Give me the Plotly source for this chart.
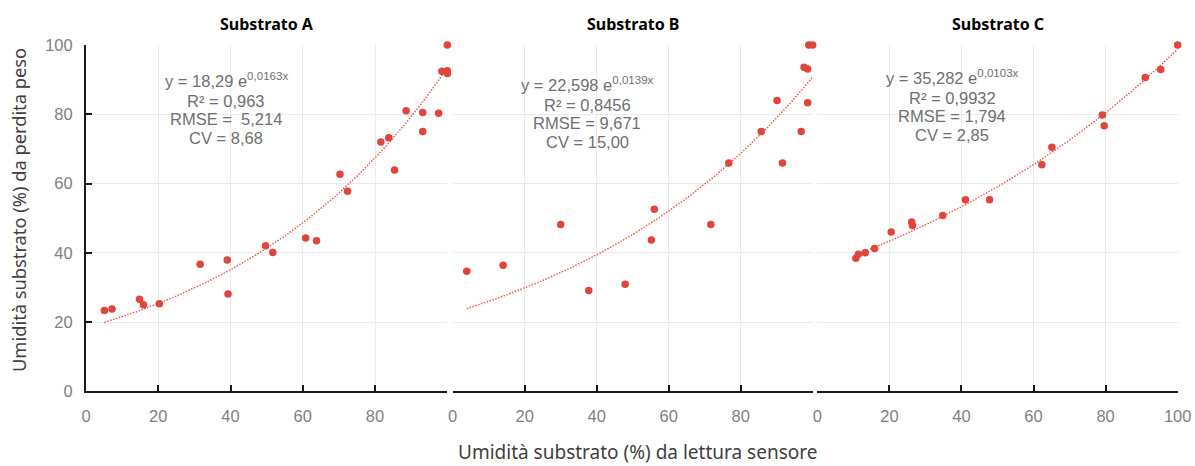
import numpy as np
import plotly.graph_objects as go

# ---- data -------------------------------------------------------------
panel_titles = ["Substrato A", "Substrato B", "Substrato C"]

sensor_a = [5.1, 7.2, 14.8, 15.9, 20.3, 31.6, 39.1, 39.3, 49.7, 51.7, 60.8, 63.8,
            70.3, 72.4, 81.6, 83.8, 85.4, 88.6, 93.2, 93.2, 97.6, 98.5, 100.0, 100.0, 100.0]
weight_a = [23.3, 23.8, 26.6, 25.0, 25.3, 36.7, 37.9, 28.1, 42.0, 40.1, 44.3, 43.5,
            62.7, 57.8, 72.0, 73.2, 63.9, 81.0, 80.5, 75.0, 80.3, 92.4, 92.6, 91.8, 100.0]

sensor_b = [3.9, 14.0, 30.0, 37.8, 47.9, 55.2, 56.0, 71.7, 76.7, 85.7, 90.1, 91.6,
            96.8, 97.6, 98.6, 98.6, 98.9, 100.0]
weight_b = [34.7, 36.4, 48.2, 29.1, 30.9, 43.7, 52.6, 48.2, 65.9, 75.0, 84.0, 65.9,
            75.0, 93.6, 93.1, 83.3, 100.0, 100.0]

sensor_c = [10.7, 11.4, 13.3, 15.9, 20.5, 26.2, 26.4, 34.8, 41.1, 47.8, 62.3, 65.1,
            79.1, 79.6, 91.0, 95.3, 100.0]
weight_c = [38.4, 39.6, 40.0, 41.2, 46.0, 48.9, 47.9, 50.8, 55.3, 55.3, 65.4, 70.5,
            79.8, 76.7, 90.6, 92.9, 100.0]

# exponential trendlines y = a * e^(b x)
fit_a = [18.29, 0.0163]
fit_b = [22.598, 0.0139]
fit_c = [35.282, 0.0103]

stats_a = ["18,29", "0,0163", "0,963", " 5,214", "8,68"]
stats_b = ["22,598", "0,0139", "0,8456", "9,671", "15,00"]
stats_c = ["35,282", "0,0103", "0,9932", "1,794", "2,85"]

x_ticks = [0, 20, 40, 60, 80, 100]
y_ticks = [0, 20, 40, 60, 80, 100]

x_title = "Umidità substrato (%) da lettura sensore"
y_title = "Umidità substrato (%) da perdita peso"

# ---- styling ----------------------------------------------------------
W, H = 1195, 466
DOT = "#e0443a"
TREND = "#ef5a52"
GRID = "#ebebeb"
AXIS = "#1a1a1a"
TICK_FONT = dict(family="Liberation Sans, Arial, sans-serif", size=16.5, color="#7f7f7f")
NOTE_FONT = dict(family="Liberation Sans, Arial, sans-serif", size=16.5, color="#707070")
TITLE_FONT = dict(family="Noto Sans, sans-serif", size=16, color="#000000")
AXIS_TITLE_FONT = dict(family="Noto Sans, sans-serif", size=19, color="#404040")
Y_TITLE_FONT = dict(family="Noto Sans, sans-serif", size=18.3, color="#404040")

# panel extents in pixels (left, right) and the shared vertical extent
x_px = [(86.0, 447.3), (452.7, 812.7), (817.3, 1177.7)]
y_dom = [(H - 391.3) / H, (H - 45.0) / H]
# centre (x, y) of each statistics block and its line pitch, in pixels
note_px = [(226, 110), (587, 114), (952, 107)]
note_pitch = 18.6

sets = [(sensor_a, weight_a, fit_a, stats_a),
        (sensor_b, weight_b, fit_b, stats_b),
        (sensor_c, weight_c, fit_c, stats_c)]

fig = go.Figure()
layout = dict(
    width=W, height=H,
    margin=dict(l=0, r=0, t=0, b=0, autoexpand=False),
    paper_bgcolor="white", plot_bgcolor="white",
    showlegend=False,
)
annotations = []

for i, (sx, sy, fit, st) in enumerate(sets):
    sfx = "" if i == 0 else str(i + 1)
    xa, ya = "x" + sfx, "y" + sfx

    xs = np.linspace(min(sx), max(sx), 200)
    fig.add_trace(go.Scatter(
        x=xs, y=fit[0] * np.exp(fit[1] * xs), mode="lines",
        line=dict(color=TREND, width=1.5, dash="1.5px,1.5px"),
        xaxis=xa, yaxis=ya, hoverinfo="skip"))
    fig.add_trace(go.Scatter(
        x=sx, y=sy, mode="markers",
        marker=dict(color=DOT, size=7.5),
        xaxis=xa, yaxis=ya, cliponaxis=False))

    last = i == 2
    # the shared 100 / 0 boundary is labelled only once, on the last panel
    shown = x_ticks if last else x_ticks[:-1]
    layout["xaxis" + sfx] = dict(
        domain=[x_px[i][0] / W, x_px[i][1] / W], range=[0, 100], anchor=ya,
        tickmode="array", tickvals=shown,
        showline=True, linecolor=AXIS, linewidth=2,
        ticks="inside", ticklen=6, tickwidth=2, tickcolor=AXIS,
        showgrid=True, gridcolor=GRID, gridwidth=1, zeroline=False,
        minor=dict(tickmode="array", tickvals=[100], ticks="inside", ticklen=6,
                   tickwidth=2, tickcolor=AXIS, showgrid=True, gridcolor=GRID,
                   gridwidth=1),
        tickfont=TICK_FONT, ticklabelstandoff=9, automargin=False,
    )
    layout["yaxis" + sfx] = dict(
        domain=y_dom, range=[0, 100], anchor=xa,
        tickmode="array", tickvals=y_ticks,
        showticklabels=(i == 0),
        showline=(i == 0), linecolor=AXIS, linewidth=2,
        ticks="inside" if i == 0 else "", ticklen=6, tickwidth=2, tickcolor=AXIS,
        showgrid=True, gridcolor=GRID, gridwidth=1, zeroline=False,
        tickfont=TICK_FONT, ticklabelstandoff=8, automargin=False,
    )

    # panel title
    annotations.append(dict(
        text="<b>%s</b>" % panel_titles[i], x=(x_px[i][0] + x_px[i][1]) / 2 / W,
        y=(H - 24) / H, xref="paper", yref="paper", showarrow=False,
        xanchor="center", yanchor="middle", font=TITLE_FONT))

    # regression statistics, one annotation per line for a tight pitch
    lines = ["y = %s e<sup>%sx</sup>" % (st[0], st[1]),
             "R² = %s" % st[2],
             "RMSE = %s" % st[3],
             "CV = %s" % st[4]]
    cx, cy = note_px[i]
    for k, line in enumerate(lines):
        ly = cy + (k - 1.5) * note_pitch
        if k == 0:
            ly -= 2  # the superscript raises this line's box
        annotations.append(dict(
            text=line, x=cx / W, y=(H - ly) / H,
            xref="paper", yref="paper", showarrow=False, align="center",
            xanchor="center", yanchor="middle", font=NOTE_FONT))

annotations.append(dict(
    text=x_title, x=637 / W, y=(H - 452) / H, xref="paper", yref="paper",
    showarrow=False, xanchor="center", yanchor="middle", font=AXIS_TITLE_FONT))
annotations.append(dict(
    text=y_title, x=18 / W, y=(H - 210) / H, xref="paper", yref="paper",
    showarrow=False, xanchor="center", yanchor="middle", textangle=-90,
    font=Y_TITLE_FONT))

layout["annotations"] = annotations
fig.update_layout(**layout)

fig.write_html("out.html")
